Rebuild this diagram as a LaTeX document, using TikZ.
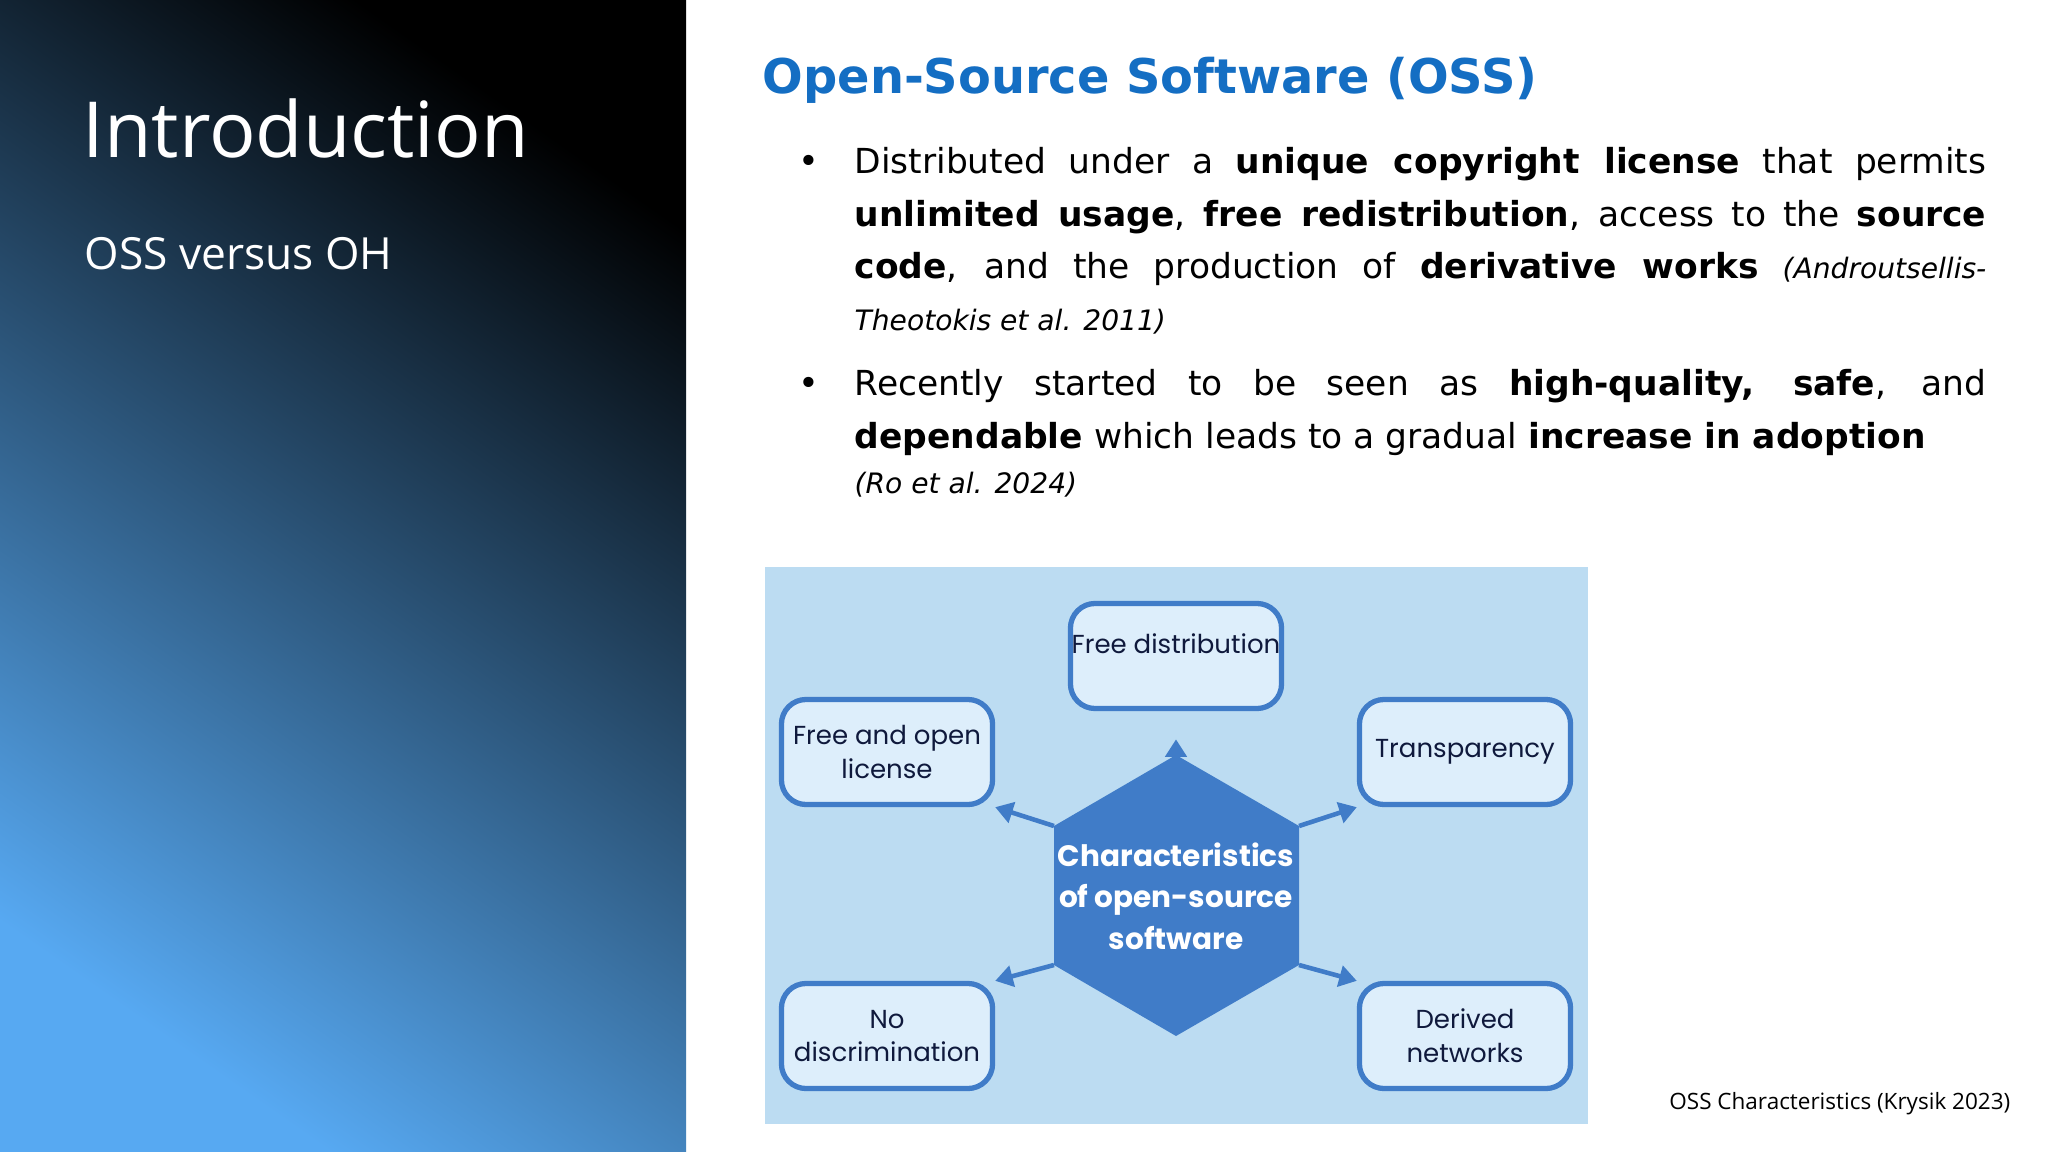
\documentclass[tikz,border=0pt]{standalone}
\usepackage{fontspec}
\setmainfont{DejaVu Sans}
\newfontfamily\popf{Poppins}
\newfontfamily\lsans{Open Sans}
\usetikzlibrary{arrows.meta}
\definecolor{panelLight}{RGB}{87,169,242}
\definecolor{panelMid}{RGB}{42,88,130}
\definecolor{titleBlue}{RGB}{20,110,195}
\definecolor{bgBlue}{RGB}{188,220,242}
\definecolor{boxFill}{RGB}{221,238,251}
\definecolor{hexBlue}{RGB}{64,124,200}
\definecolor{navy}{RGB}{15,25,60}
\tikzset{
  charbox/.style={draw=hexBlue, line width=1.5pt, fill=boxFill, rounded corners=7pt, minimum width=2.11cm, minimum height=1.05cm, align=center, font=\popf\fontsize{7.4}{9.6}\selectfont, text=navy, inner sep=0pt},
  conn/.style={draw=hexBlue, line width=1.3pt, -{Triangle[length=5pt,width=6pt]}}
}
\begin{document}
\begin{tikzpicture}[x=0.01cm,y=-0.01cm]
\useasboundingbox (0,0) rectangle (2048,1152);
\fill[white] (0,0) rectangle (2048,1152);
\shade[shading=axis, top color=black, middle color=panelMid, bottom color=panelLight, shading angle=-35] (0,0) rectangle (686,1152);
\node[anchor=base west, text=white, inner sep=0pt, font=\lsans\fontsize{22}{24}\selectfont] (intro) at (82,158) {Introduction};
\node[anchor=base west, text=white, inner sep=0pt, font=\lsans\fontsize{12.6}{16}\selectfont] (sub) at (84,270) {OSS versus OH};
\node[anchor=base west, text=titleBlue, inner sep=0pt, font=\bfseries\fontsize{13.6}{17}\selectfont] (title) at (762,94) {Open-Source Software (OSS)};
% bullets
\node[anchor=base west, inner sep=0pt, font=\fontsize{10}{14}\selectfont] (b1) at (798,174) {\textbullet};
\node[anchor=base west, inner sep=0pt] (p1) at (854,174) {\parbox[t]{11.31cm}{\fontsize{9.8}{14.8}\selectfont\hyphenpenalty=10000
Distributed under a \textbf{unique copyright license} that permits\linebreak \textbf{unlimited usage}, \textbf{free redistribution}, access to the \textbf{source}\linebreak \textbf{code}, and the production of \textbf{derivative works} {\fontsize{8}{10}\selectfont\itshape (Androutsellis-\linebreak Theotokis et al. 2011)}}};
\node[anchor=base west, inner sep=0pt, font=\fontsize{10}{14}\selectfont] (b2) at (798,396) {\textbullet};
\node[anchor=base west, inner sep=0pt] (p2) at (854,396) {\parbox[t]{11.31cm}{\fontsize{9.8}{14.8}\selectfont\hyphenpenalty=10000
Recently started to be seen as \textbf{high-quality, safe}, and\linebreak \textbf{dependable} which leads to a gradual \textbf{increase in adoption}\\[-2pt]
{\fontsize{8}{10}\selectfont\itshape (Ro et al. 2024)}}};
% diagram
\fill[bgBlue] (765,567) rectangle (1588,1124);
\node[charbox] (fd) at (1176,656) {};
\node[anchor=north, inner sep=0pt, font=\popf\fontsize{7.4}{9.6}\selectfont, text=navy] (fdt) at (1176,633) {Free distribution};
\node[charbox] (fol) at (887,752) {Free and open\\license};
\node[charbox] (tr) at (1465,752) {Transparency};
\node[charbox] (nd) at (887,1036) {No\\discrimination};
\node[charbox] (dn) at (1465,1036) {Derived\\networks};
\fill[hexBlue] (1176,755) -- (1299,826) -- (1299,965) -- (1176,1036) -- (1054,965) -- (1054,826) -- cycle;
\coordinate (ht) at (1176,755);
\coordinate (hul) at (1054,826);
\coordinate (hur) at (1299,826);
\coordinate (hll) at (1054,965);
\coordinate (hlr) at (1299,965);
\node[text=white, align=center, font=\popf\fontsize{8.4}{11.8}\selectfont] (hex) at (1176,896) {\textbf{Characteristics}\\\textbf{of open-source}\\\textbf{software}};
\draw[conn] (ht) -- ([yshift=-8pt]fd.south);
\draw[conn] (hul) -- (fol.south east);
\draw[conn] (hur) -- (tr.south west);
\draw[conn] (hll) -- (nd.north east);
\draw[conn] (hlr) -- (dn.north west);
\node[anchor=base east, inner sep=0pt, font=\lsans\fontsize{6.4}{8}\selectfont] (cap) at (2011,1109) {OSS Characteristics (Krysik 2023)};
\end{tikzpicture}
\end{document}
